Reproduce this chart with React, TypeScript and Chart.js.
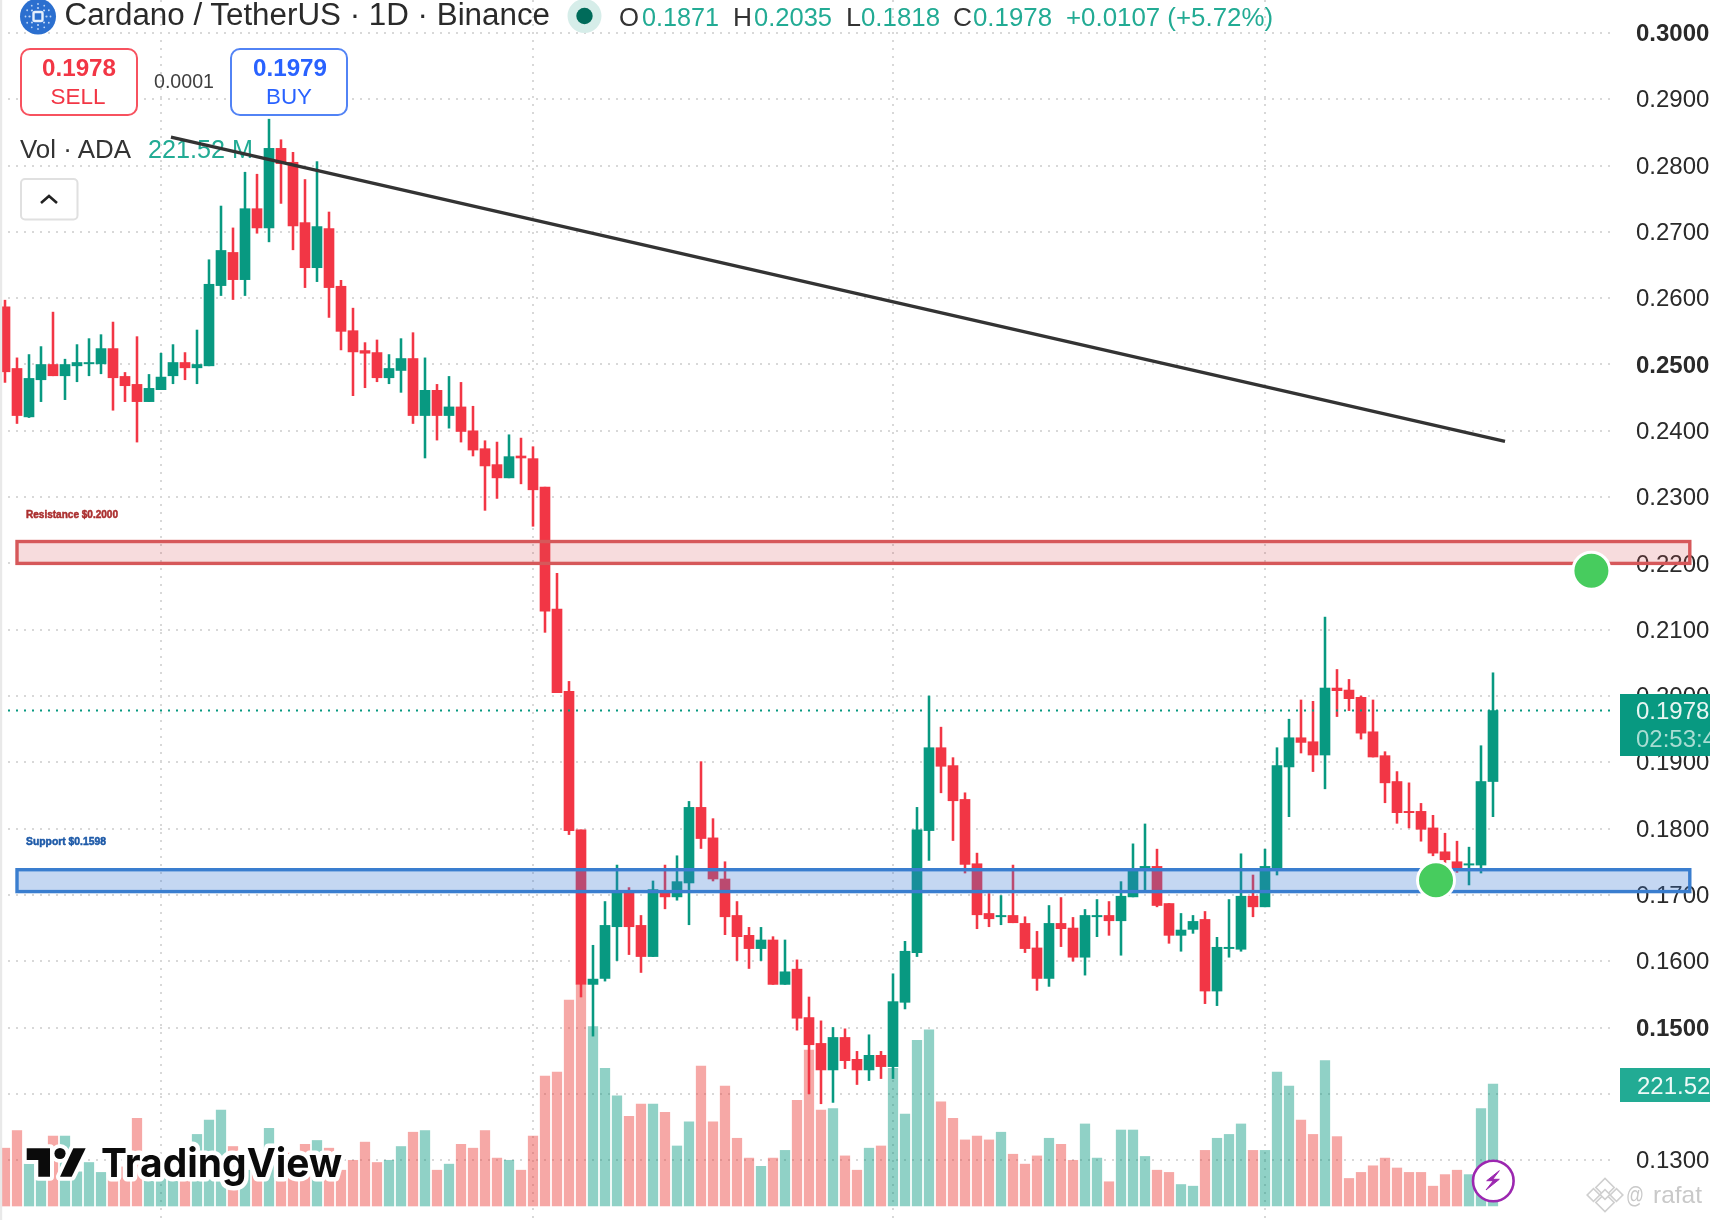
import React, { useEffect, useRef } from "react";
import { Chart, registerables } from "chart.js";

Chart.register(...registerables);

// ---- candle data (one entry per day, left to right) ----
const opens = [
  0.2587,0.2494,0.2421,0.2477,0.25,0.2483,0.2498,0.2501,0.2501,0.2524,
  0.2482,0.247,0.2444,0.2462,0.2483,0.2503,0.2495,0.2498,0.2619,0.2669,
  0.2628,0.2735,0.2706,0.2826,0.2805,0.2714,0.2646,0.2705,0.2618,0.2551,
  0.2521,0.2518,0.248,0.2491,0.2509,0.2423,0.2461,0.2423,0.2436,0.24,
  0.2373,0.2349,0.2329,0.2362,0.2358,0.2315,0.2131,0.2007,0.1798,0.1565,
  0.1574,0.1652,0.1704,0.1654,0.1607,0.1704,0.1697,0.1718,0.1832,0.1786,
  0.1724,0.1669,0.1639,0.1619,0.1632,0.1565,0.1588,0.1515,0.1476,0.1436,
  0.1485,0.1452,0.1436,0.1458,0.1441,0.1538,0.1613,0.1797,0.1922,0.1895,
  0.1844,0.1747,0.1672,0.1667,0.1669,0.1657,0.162,0.1574,0.1657,0.165,
  0.1606,0.1667,0.1669,0.1661,0.1697,0.174,0.1743,0.1687,0.1639,0.1648,
  0.1663,0.1555,0.1619,0.1618,0.1698,0.1682,0.1741,0.1893,0.1937,0.1931,
  0.1911,0.2012,0.2009,0.1998,0.1946,0.191,0.1871,0.1826,0.1826,0.1801,
  0.1765,0.175,0.1745,0.1745,0.1871,
];
const closes = [
  0.2489,0.2423,0.2479,0.25,0.2483,0.25,0.2503,0.2503,0.2524,0.248,
  0.2468,0.2444,0.2464,0.2481,0.2503,0.2495,0.25,0.2621,0.2672,0.2628,
  0.2735,0.2706,0.2826,0.2803,0.2709,0.2646,0.2708,0.2616,0.255,0.2519,
  0.2517,0.248,0.2494,0.2509,0.2423,0.2461,0.2423,0.2436,0.2399,0.2371,
  0.2347,0.2329,0.2361,0.2359,0.2311,0.2128,0.2005,0.1797,0.1565,0.1573,
  0.1654,0.1706,0.1652,0.1607,0.1708,0.1697,0.172,0.1832,0.1785,0.1724,
  0.1667,0.1637,0.1619,0.1632,0.1565,0.1584,0.1514,0.1474,0.1436,0.1485,
  0.145,0.1436,0.1458,0.1441,0.1539,0.1615,0.1798,0.1922,0.1894,0.1842,
  0.1746,0.167,0.1664,0.1669,0.1658,0.1619,0.1574,0.1657,0.1649,0.1606,
  0.1669,0.1669,0.1661,0.1698,0.174,0.1743,0.1684,0.1639,0.1647,0.166,
  0.1555,0.1621,0.1621,0.1698,0.1682,0.1743,0.1895,0.1937,0.193,0.1911,
  0.2012,0.2008,0.1996,0.1944,0.1908,0.1869,0.1824,0.1824,0.1799,0.1763,
  0.1753,0.1741,0.1747,0.1871,0.1978,
];
const highs = [
  0.2597,0.251,0.2515,0.2527,0.2579,0.2508,0.253,0.2539,0.2545,0.2564,
  0.2488,0.2542,0.2485,0.2517,0.253,0.2518,0.2552,0.2658,0.2739,0.2706,
  0.279,0.2787,0.287,0.2839,0.282,0.2779,0.2806,0.273,0.2627,0.2585,
  0.2533,0.2537,0.2515,0.2539,0.2548,0.251,0.247,0.2482,0.2473,0.2437,
  0.2385,0.2383,0.2394,0.2389,0.2376,0.2315,0.2185,0.2022,0.1798,0.1624,
  0.169,0.1745,0.1711,0.1669,0.1721,0.1745,0.1759,0.1841,0.1901,0.1815,
  0.175,0.169,0.1651,0.1651,0.1637,0.1632,0.1602,0.1546,0.151,0.15,
  0.1498,0.1464,0.1489,0.1464,0.1581,0.163,0.1832,0.2,0.1953,0.1907,
  0.1854,0.1763,0.1702,0.1699,0.1745,0.1667,0.1645,0.1684,0.1696,0.1666,
  0.1678,0.1693,0.169,0.172,0.1777,0.1807,0.1769,0.1687,0.1672,0.1669,
  0.1675,0.1636,0.1693,0.1762,0.173,0.1769,0.1922,0.1965,0.1994,0.1992,
  0.2119,0.204,0.2025,0.2,0.1994,0.1916,0.1886,0.1869,0.1838,0.182,
  0.1793,0.1781,0.1772,0.1925,0.2035,
];
const lows = [
  0.2473,0.2411,0.242,0.2444,0.2483,0.2447,0.2474,0.2483,0.2486,0.2431,
  0.2444,0.2383,0.2444,0.2462,0.2471,0.2477,0.2471,0.2498,0.2604,0.2598,
  0.2604,0.2698,0.2685,0.2743,0.2673,0.2616,0.2625,0.2571,0.2522,0.2453,
  0.2465,0.2474,0.2471,0.2458,0.2411,0.2359,0.2386,0.2404,0.2383,0.2362,
  0.228,0.2298,0.2329,0.232,0.2256,0.2096,0.2005,0.1791,0.1546,0.1487,
  0.157,0.1601,0.161,0.1583,0.1607,0.1679,0.1692,0.1655,0.177,0.1721,
  0.164,0.1601,0.1589,0.1601,0.1565,0.1565,0.1496,0.14,0.1385,0.1387,
  0.1438,0.1414,0.142,0.1423,0.1423,0.1528,0.1607,0.1752,0.1854,0.1782,
  0.1733,0.1649,0.1652,0.1655,0.1658,0.1613,0.1556,0.1562,0.1622,0.16,
  0.1579,0.1637,0.1639,0.1609,0.1697,0.1704,0.1682,0.1627,0.1615,0.1642,
  0.1536,0.1533,0.1606,0.1615,0.1667,0.1682,0.173,0.1818,0.1914,0.1886,
  0.186,0.1969,0.1978,0.1935,0.1908,0.1839,0.1808,0.1801,0.1781,0.1759,
  0.1728,0.1734,0.1715,0.1733,0.1818,
];
const volumes = [
  105,137,76,71,127,127,62,79,61,71,
  71,159,65,77,71,65,130,156,174,108,
  65,65,141,71,96,112,119,105,65,83,
  116,79,83,108,134,137,65,76,112,105,
  137,87,83,65,127,236,243,374,401,326,
  250,200,163,185,185,170,109,153,254,153,
  218,123,87,72,87,101,192,283,174,177,
  91,65,105,109,250,167,301,320,189,159,
  120,127,120,134,94,76,91,123,112,83,
  149,87,44,138,138,90,65,61,39,36,
  101,123,130,149,101,101,243,218,156,130,
  264,126,50,61,73,87,69,61,61,36,
  57,65,57,177,221.52,
];

// ---- axes ----
const priceTicks = [0.3,0.29,0.28,0.27,0.26,0.25,0.24,0.23,0.22,0.21,0.2,0.19,0.18,0.17,0.16,0.15,0.14,0.13];
const boldTicks = [0.3,0.25,0.15];
const monthTicks = [13,44,74,105];

// ---- drawings on the chart ----
const lastPrice = 0.1978;
const trendX = [13.83,125];
const trendY = [0.2843,0.2384];
const signalX = [132.2,119.25];
const signalY = [0.2189,0.1722];
const resistanceZone = { x: [1,140.4], y: [0.22,0.2233] };
const supportZone = { x: [1,140.4], y: [0.1705,0.1738] };

const W = 1710;
const H = 1220;
const AXIS_W = 96;
const PX_PER_BAR = 12;
const FIRST_BAR_PX = 5;
const PX_PER_PRICE = 6630;
const P30_PX = 33;
const VOL_BASE_PX = 1206;
const M_PER_PX = 1.816;

const RED = "#F23645";
const GREEN = "#089981";
const xMin = -FIRST_BAR_PX / PX_PER_BAR;
const xMax = (W - AXIS_W - FIRST_BAR_PX) / PX_PER_BAR;
const yMax = 0.3 + P30_PX / PX_PER_PRICE;
const yMin = 0.3 - (H - P30_PX) / PX_PER_PRICE;
const vMax = VOL_BASE_PX * M_PER_PX;
const vMin = -(H - VOL_BASE_PX) * M_PER_PX;

const SANS = "'Liberation Sans', Arial, sans-serif";

function T(p: any) {
  const { x, y, size, fill, len, weight, anchor, family, stroke, sw, children } = p;
  return (
    <text
      x={x}
      y={y}
      fontSize={size}
      fill={fill}
      fontWeight={weight || 400}
      textAnchor={anchor || "start"}
      fontFamily={family || SANS}
      textLength={len}
      lengthAdjust={len ? "spacingAndGlyphs" : undefined}
      stroke={stroke}
      strokeWidth={sw}
      strokeLinejoin="round"
      style={stroke ? { paintOrder: "stroke" } : undefined}
    >
      {children}
    </text>
  );
}

const zonesPlugin = {
  id: "zones",
  afterDatasetDraw(chart: any, args: any) {
    if (chart.data.datasets[args.index].label !== "Bodies") return;
    const { ctx, scales } = chart;
    const draw = (z: any, fill: string, stroke: string) => {
      const x0 = scales.x.getPixelForValue(z.x[0]);
      const x1 = scales.x.getPixelForValue(z.x[1]);
      const y0 = scales.y.getPixelForValue(z.y[1]);
      const y1 = scales.y.getPixelForValue(z.y[0]);
      ctx.save();
      ctx.fillStyle = fill;
      ctx.fillRect(x0, y0, x1 - x0, y1 - y0);
      ctx.strokeStyle = stroke;
      ctx.lineWidth = 3.4;
      ctx.strokeRect(x0, y0, x1 - x0, y1 - y0);
      ctx.restore();
    };
    draw(resistanceZone, "rgba(217,80,84,0.2)", "#D6585A");
    draw(supportZone, "rgba(58,123,213,0.3)", "#3A7ECF");
  },
};

export default function App() {
  const ref = useRef<HTMLCanvasElement>(null);

  useEffect(() => {
    document.body.style.margin = "0";
    const idx = opens.map((_, i) => i);
    const isUp = idx.map((i) => closes[i] >= opens[i]);
    const candleColors = isUp.map((u) => (u ? GREEN : RED));
    const volColors = isUp.map((u) => (u ? "rgba(8,153,129,0.45)" : "rgba(235,70,65,0.47)"));
    const bar = { type: "bar", grouped: false, categoryPercentage: 1, barPercentage: 1, borderWidth: 0, borderSkipped: false };

    const chart = new Chart(ref.current as HTMLCanvasElement, {
      type: "bar",
      data: {
        datasets: [
          {
            ...bar,
            label: "Volume",
            yAxisID: "v",
            order: 10,
            maxBarThickness: 9.6,
            backgroundColor: volColors,
            data: idx.map((i) => ({ x: i, y: volumes[i] })),
          },
          {
            ...bar,
            label: "Wicks",
            order: 9,
            maxBarThickness: 1.9,
            backgroundColor: candleColors,
            data: idx.map((i) => ({ x: i, y: [lows[i], highs[i]] })),
          },
          {
            ...bar,
            label: "Bodies",
            order: 8,
            maxBarThickness: 10,
            backgroundColor: candleColors,
            data: idx.map((i) => ({ x: i, y: [opens[i], closes[i]] })),
          },
          {
            type: "line",
            label: "Last price",
            order: 6,
            borderColor: GREEN,
            borderWidth: 2,
            borderDash: [2, 6],
            pointRadius: 0,
            data: [{ x: xMin, y: lastPrice }, { x: xMax, y: lastPrice }],
          },
          {
            type: "line",
            label: "Trend",
            order: 5,
            borderColor: "#333333",
            borderWidth: 3.4,
            pointRadius: 0,
            data: trendX.map((x, i) => ({ x, y: trendY[i] })),
          },
          {
            type: "line",
            label: "Signals",
            order: 4,
            showLine: false,
            pointRadius: 18.5,
            pointBackgroundColor: "#47CC5E",
            pointBorderColor: "#FFFFFF",
            pointBorderWidth: 3,
            data: signalX.map((x, i) => ({ x, y: signalY[i] })),
          },
        ],
      } as any,
      options: {
        responsive: false,
        animation: false,
        devicePixelRatio: 1,
        layout: { padding: 0, autoPadding: false },
        events: [],
        plugins: { legend: { display: false }, tooltip: { enabled: false }, title: { display: false } },
        scales: {
          x: {
            type: "linear",
            offset: false,
            min: xMin,
            max: xMax,
            afterBuildTicks: (s: any) => {
              s.ticks = monthTicks.map((value) => ({ value }));
            },
            afterFit: (s: any) => {
              s.height = 0;
              s.paddingLeft = 0;
              s.paddingRight = 0;
              s.paddingTop = 0;
              s.paddingBottom = 0;
            },
            ticks: { display: false },
            grid: { color: "#D8D8D8", lineWidth: 2, drawTicks: false, offset: false },
            border: { display: false, dash: [2, 6] },
          },
          y: {
            type: "linear",
            position: "right",
            min: yMin,
            max: yMax,
            afterBuildTicks: (s: any) => {
              s.ticks = priceTicks.map((value) => ({ value }));
            },
            afterFit: (s: any) => {
              s.width = AXIS_W;
              s.paddingLeft = 0;
              s.paddingRight = 0;
              s.paddingTop = 0;
              s.paddingBottom = 0;
            },
            ticks: {
              autoSkip: false,
              padding: 22,
              labelOffset: 1.5,
              color: "#2A2A2A",
              callback: (v: any) => Number(v).toFixed(4),
              font: (c: any) => ({
                family: "'Liberation Sans', Arial, sans-serif",
                size: 24,
                weight: boldTicks.some((b) => Math.abs(b - c.tick?.value) < 1e-6) ? "bold" : "normal",
              }),
            },
            grid: { color: "#D8D8D8", lineWidth: 2, drawTicks: false },
            border: { display: false, dash: [2, 6] },
          },
          v: { type: "linear", display: false, min: vMin, max: vMax, position: "left" },
        },
      } as any,
      plugins: [zonesPlugin as any],
    });
    return () => chart.destroy();
  }, []);

  const layer: React.CSSProperties = { position: "absolute", left: 0, top: 0, width: W, height: H, pointerEvents: "none", filter: "blur(0.45px)" };
  const ringDots: React.ReactElement[] = [];
  for (const [r, n] of [[8.5, 8], [12.5, 12]] as number[][]) {
    for (let k = 0; k < n; k++) {
      const a = (k * 2 * Math.PI) / n;
      ringDots.push(<circle key={`${r}-${k}`} cx={38 + r * Math.cos(a)} cy={16.5 + r * Math.sin(a)} r={r > 10 ? 0.9 : 1.1} fill="#BcD4F5" />);
    }
  }

  return (
    <div style={{ position: "absolute", left: 0, top: 0, width: W, height: H, overflow: "hidden", background: "#fff" }}>
      <svg style={{ ...layer, zIndex: 1 }} width={W} height={H}>
        <T x={20} y={157.5} size={25} fill="#333" len={111}>Vol · ADA</T>
        <T x={148} y={157.5} size={25} fill="#22AB94" len={105}>221.52 M</T>
      </svg>
      <canvas ref={ref} width={W} height={H} style={{ ...layer, zIndex: 2, display: "block" }} />
      <svg style={{ ...layer, zIndex: 3 }} width={W} height={H}>
        <rect x={0} y={0} width={2.2} height={H} fill="#E9E9E9" />

        {/* header */}
        <circle cx={38} cy={16.5} r={18} fill="#2B6FCF" />
        {ringDots}
        <rect x={33.5} y={12} width={9} height={9} rx={1.5} fill="none" stroke="#E6EFFB" strokeWidth={2.4} />
        <T x={64.5} y={25} size={31} fill="#2A2A2A" len={485.5}>Cardano / TetherUS · 1D · Binance</T>
        <circle cx={584.5} cy={16} r={17} fill="#D6EDE9" />
        <circle cx={584.5} cy={16} r={8.2} fill="#006B5A" />
        <T x={619} y={26} size={25.5} fill="#333" len={20}>O</T>
        <T x={642} y={26} size={25.5} fill="#22AB94" len={77}>0.1871</T>
        <T x={733} y={26} size={25.5} fill="#333" len={19}>H</T>
        <T x={754} y={26} size={25.5} fill="#22AB94" len={78}>0.2035</T>
        <T x={846} y={26} size={25.5} fill="#333" len={15}>L</T>
        <T x={861} y={26} size={25.5} fill="#22AB94" len={79}>0.1818</T>
        <T x={953} y={26} size={25.5} fill="#333" len={19}>C</T>
        <T x={973} y={26} size={25.5} fill="#22AB94" len={79}>0.1978</T>
        <T x={1066} y={26} size={25.5} fill="#22AB94" len={207}>+0.0107 (+5.72%)</T>

        {/* sell / buy */}
        <rect x={21} y={49} width={116} height={66} rx={9} fill="#fff" stroke="#F7525F" strokeWidth={2} />
        <T x={79} y={76} size={24} weight={700} fill={RED} anchor="middle" len={74}>0.1978</T>
        <T x={78} y={104} size={22.5} fill={RED} anchor="middle" len={55}>SELL</T>
        <T x={154} y={88} size={19.6} fill="#3F3F3F" len={60}>0.0001</T>
        <rect x={231} y={49} width={116} height={66} rx={9} fill="#fff" stroke="#5283F5" strokeWidth={2} />
        <T x={290} y={76} size={24} weight={700} fill="#2962FF" anchor="middle" len={74}>0.1979</T>
        <T x={289} y={104} size={22.5} fill="#2962FF" anchor="middle" len={46}>BUY</T>

        {/* collapse button */}
        <rect x={21} y={179} width={56.5} height={40.5} rx={4} fill="#fff" stroke="#E0E0E0" strokeWidth={2} />
        <path d="M41 203 L49 196 L57 203" fill="none" stroke="#222" strokeWidth={2.6} />

        {/* zone labels */}
        <T x={26} y={518} size={10.5} weight={700} fill="#AB2F2F" stroke="#AB2F2F" sw={0.5} len={92}>Resistance $0.2000</T>
        <T x={26} y={845} size={10.5} weight={700} fill="#1E5AA8" stroke="#1E5AA8" sw={0.5} len={80}>Support $0.1598</T>

        {/* price tags */}
        <rect x={1620} y={694} width={90} height={62} fill={GREEN} />
        <T x={1636} y={718.5} size={24} fill="#E8F6F3">0.1978</T>
        <T x={1636} y={746.5} size={24} fill="#A9DDD3">02:53:47</T>
        <rect x={1620} y={1068} width={90} height={34} fill="#22AB94" />
        <T x={1637} y={1094} size={24} fill="#EFFAF8">221.52 M</T>

        {/* TradingView logo */}
        <g stroke="#fff" strokeWidth={8} strokeLinejoin="round" fill="#0B0B0B" style={{ paintOrder: "stroke" }}>
          <path d="M26.7 1148.3 H50 V1176.7 H38.3 V1160 H26.7 Z" />
          <circle cx={60} cy={1153.5} r={5.6} />
          <path d="M73.3 1148.3 H85.7 L71.7 1176.7 H60 Z" />
        </g>
        <T x={101} y={1177} size={40} weight={700} fill="#0B0B0B" family="Inter, 'Liberation Sans', sans-serif" len={241} stroke="#fff" sw={9}>TradingView</T>

        {/* flash icon */}
        <circle cx={1493.3} cy={1181} r={20.3} fill="#fff" stroke="#9C27B0" strokeWidth={2.6} />
        <path d="M1499.3 1170.7 L1486.7 1180.7 H1493.3 L1486 1190 L1499.3 1179.3 H1492.7 Z" fill="#9C27B0" stroke="#9C27B0" strokeWidth={1} />

        {/* watermark */}
        <g fill="#fff" stroke="#CFCFCF" strokeWidth={1.6}>
          <rect x={1598.5} y={1181} width={13} height={13} transform="rotate(45 1605 1187.5)" />
          <rect x={1589} y={1190.5} width={9} height={9} transform="rotate(45 1593.5 1195)" />
          <rect x={1612} y={1190.5} width={9} height={9} transform="rotate(45 1616.5 1195)" />
          <rect x={1598.5} y={1196} width={13} height={13} transform="rotate(45 1605 1202.5)" />
          <rect x={1601.5} y={1191} width={7} height={7} transform="rotate(45 1605 1194.5)" />
        </g>
        <T x={1626} y={1203} size={24} fill="#C9C9C9" len={18}>@</T>
        <T x={1653} y={1203} size={24} fill="#C9C9C9" len={49}>rafat</T>
      </svg>
    </div>
  );
}
